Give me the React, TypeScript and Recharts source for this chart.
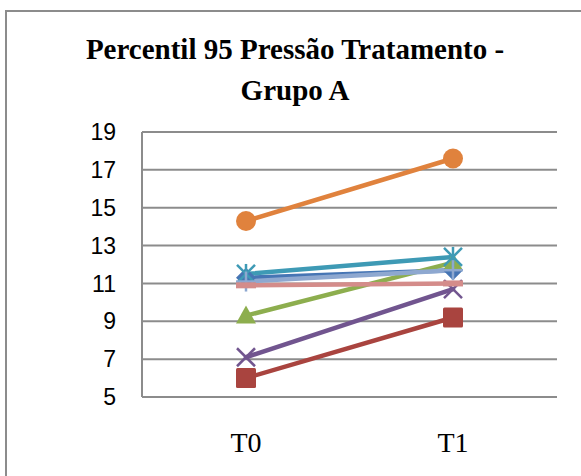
import * as React from 'react';
import { LineChart, Line, CartesianGrid, XAxis, YAxis } from 'recharts';

const times = ['T0', 'T1'];
const serie1 = [11.3, 11.7];
const serie2 = [6.0, 9.2];
const serie3 = [9.3, 12.1];
const serie4 = [7.1, 10.7];
const serie5 = [11.5, 12.4];
const serie6 = [14.3, 17.6];
const serie7 = [11.1, 11.7];
const serie8 = [10.9, 11.0];
const yTicks = [5, 7, 9, 11, 13, 15, 17, 19];

const data = times.map((t, i) => ({
  time: t,
  s1: serie1[i],
  s2: serie2[i],
  s3: serie3[i],
  s4: serie4[i],
  s5: serie5[i],
  s6: serie6[i],
  s7: serie7[i],
  s8: serie8[i],
}));

type Shape = 'diamond' | 'square' | 'triangle' | 'x' | 'star' | 'circle' | 'plus' | 'dash';

const series: { key: string; color: string; shape: Shape }[] = [
  { key: 's1', color: '#4675B4', shape: 'diamond' },
  { key: 's2', color: '#A9443F', shape: 'square' },
  { key: 's3', color: '#8DAE4E', shape: 'triangle' },
  { key: 's4', color: '#71558F', shape: 'x' },
  { key: 's5', color: '#3E9AB5', shape: 'star' },
  { key: 's6', color: '#E0823D', shape: 'circle' },
  { key: 's7', color: '#8EA8D0', shape: 'plus' },
  { key: 's8', color: '#D48C8A', shape: 'dash' },
];

// excel-style marker shapes
function marker(shape: Shape, color: string) {
  return (props: any) => {
    const { cx, cy, index } = props;
    if (cx == null || cy == null) return <g key={index} />;
    const r = 10;
    switch (shape) {
      case 'diamond':
        return <polygon key={index} points={`${cx},${cy - r} ${cx + r},${cy} ${cx},${cy + r} ${cx - r},${cy}`} fill={color} />;
      case 'square':
        return <rect key={index} x={cx - r} y={cy - r} width={r * 2} height={r * 2} rx={1.5} fill={color} />;
      case 'triangle':
        return <polygon key={index} points={`${cx},${cy - r} ${cx + r},${cy + r * 0.8} ${cx - r},${cy + r * 0.8}`} fill={color} />;
      case 'circle':
        return <circle key={index} cx={cx} cy={cy} r={r} fill={color} />;
      case 'x':
        return (
          <g key={index} stroke={color} strokeWidth={2.5}>
            <line x1={cx - 9} y1={cy - 9} x2={cx + 9} y2={cy + 9} />
            <line x1={cx - 9} y1={cy + 9} x2={cx + 9} y2={cy - 9} />
          </g>
        );
      case 'star':
        return (
          <g key={index} stroke={color} strokeWidth={2.5}>
            <line x1={cx - 9} y1={cy - 9} x2={cx + 9} y2={cy + 9} />
            <line x1={cx - 9} y1={cy + 9} x2={cx + 9} y2={cy - 9} />
            <line x1={cx} y1={cy - 10} x2={cx} y2={cy + 10} />
          </g>
        );
      case 'plus':
        return (
          <g key={index} stroke={color} strokeWidth={2.5}>
            <line x1={cx - 10} y1={cy} x2={cx + 10} y2={cy} />
            <line x1={cx} y1={cy - 10} x2={cx} y2={cy + 10} />
          </g>
        );
      case 'dash':
        return <rect key={index} x={cx - 10} y={cy - 3} width={20} height={6} fill={color} />;
    }
  };
}

export default function App() {
  return (
    <div style={{ position: 'absolute', left: 0, top: 0, width: 581, height: 476, overflow: 'hidden', background: '#fff' }}>
      <div
        style={{
          position: 'absolute',
          left: 5,
          top: 10,
          width: 620,
          height: 520,
          border: '2px solid #8c8c8c',
        }}
      />
      <div
        style={{
          position: 'absolute',
          left: 10,
          top: 29,
          width: 570,
          textAlign: 'center',
          fontFamily: '"Liberation Serif", serif',
          fontWeight: 'bold',
          fontSize: 29,
          lineHeight: '41px',
          color: '#000',
        }}
      >
        Percentil 95 Pressão Tratamento -<br />
        Grupo A
      </div>
      <div style={{ position: 'absolute', left: 0, top: 0 }}>
        <LineChart width={581} height={476} data={data} margin={{ top: 132, right: 24, left: 82, bottom: 49 }}>
          <CartesianGrid vertical={false} stroke="#8c8c8c" strokeWidth={2} />
          <XAxis
            dataKey="time"
            padding={{ left: 104, right: 104 }}
            axisLine={{ stroke: '#8c8c8c', strokeWidth: 2 }}
            tickLine={false}
            tickSize={0}
            tickMargin={35}
            height={30}
            tick={{ fill: '#000', fontSize: 28, fontFamily: '"Liberation Serif", serif' }}
          />
          <YAxis
            domain={[5, 19]}
            ticks={yTicks}
            width={60}
            axisLine={{ stroke: '#8c8c8c', strokeWidth: 2 }}
            tickLine={false}
            tickSize={0}
            tickMargin={26}
            tick={{ fill: '#000', fontSize: 23, fontFamily: '"Liberation Sans", sans-serif' }}
          />
          {series.map((s) => (
            <Line
              key={s.key}
              dataKey={s.key}
              type="linear"
              stroke={s.color}
              strokeWidth={4.5}
              strokeLinecap="round"
              dot={marker(s.shape, s.color)}
              activeDot={false}
              isAnimationActive={false}
            />
          ))}
        </LineChart>
      </div>
    </div>
  );
}
